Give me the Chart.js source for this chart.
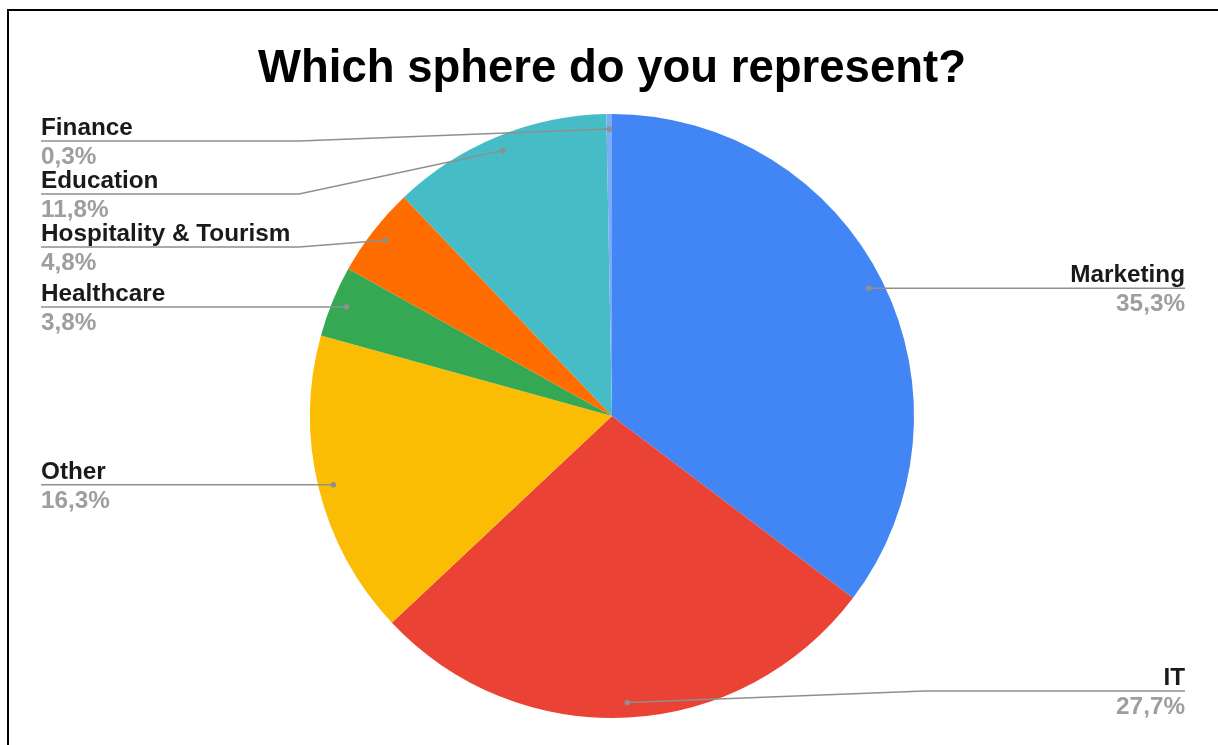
<!DOCTYPE html>
<html>
<head>
<meta charset="utf-8">
<script src="https://cdn.jsdelivr.net/npm/chart.js@4"></script>
<style>
  body { margin: 0; background: #fff; }
  #wrap { position: relative; width: 1218px; height: 745px; }
</style>
</head>
<body>
<div id="wrap"><canvas id="pie" width="1218" height="745"></canvas></div>
<script>
// Data (clockwise from top)
const categories = ['Marketing', 'IT', 'Other', 'Healthcare', 'Hospitality & Tourism', 'Education', 'Finance'];
const shares = [35.3, 27.7, 16.3, 3.8, 4.8, 11.8, 0.3];
const sliceColors = ['#4285F4', '#EA4335', '#FBBC04', '#34A853', '#FF6D01', '#46BDC6', '#7BAAF7'];
const chartTitle = 'Which sphere do you represent?';

const FONT = '"Liberation Sans", Arial, sans-serif';

function fmtPct(v) {
    return v.toFixed(1).replace('.', ',') + '%';
}

// frame, title and leader-line labels
const calloutPlugin = {
    id: 'callouts',
    afterDraw(chart) {
        const ctx = chart.ctx;
        const W = chart.width, H = chart.height;
        ctx.save();

        // frame (top + left edge)
        ctx.strokeStyle = '#000';
        ctx.lineWidth = 2;
        ctx.beginPath();
        ctx.moveTo(8, H);
        ctx.lineTo(8, 10);
        ctx.lineTo(W, 10);
        ctx.stroke();

        // title
        ctx.fillStyle = '#000';
        ctx.font = 'bold 45.5px ' + FONT;
        ctx.textAlign = 'center';
        ctx.textBaseline = 'alphabetic';
        ctx.fillText(chartTitle, 612, 82);

        const meta = chart.getDatasetMeta(0);
        const items = [];
        meta.data.forEach((arc, i) => {
            const p = arc.getProps(['x', 'y', 'startAngle', 'endAngle', 'outerRadius'], true);
            const mid = (p.startAngle + p.endAngle) / 2;
            const d = p.outerRadius * 0.95;
            items.push({
                i,
                cx: p.x, r: p.outerRadius,
                dx: p.x + Math.cos(mid) * d,
                dy: p.y + Math.sin(mid) * d,
                right: Math.cos(mid) >= 0
            });
        });

        const minY = 141, maxY = H - 54, gap = 53;
        [true, false].forEach(side => {
            const group = items.filter(it => it.right === side).sort((a, b) => a.dy - b.dy);
            let prev = -Infinity;
            group.forEach(it => {
                let ly = Math.max(it.dy, prev + gap, minY);
                ly = Math.min(ly, maxY);
                it.ly = ly;
                prev = ly;
            });
        });

        items.forEach(it => {
            const textX = it.right ? 1185 : 41;
            const bendX = it.right ? it.cx + it.r + 11 : it.cx - it.r - 11;

            ctx.strokeStyle = '#8f8f8f';
            ctx.lineWidth = 1.5;
            ctx.beginPath();
            ctx.moveTo(it.dx, it.dy);
            if (Math.abs(it.ly - it.dy) > 0.5) ctx.lineTo(bendX, it.ly);
            ctx.lineTo(textX, it.ly);
            ctx.stroke();

            ctx.fillStyle = '#8f8f8f';
            ctx.beginPath();
            ctx.arc(it.dx, it.dy, 2.8, 0, Math.PI * 2);
            ctx.fill();

            ctx.textAlign = it.right ? 'right' : 'left';
            ctx.font = 'bold 24.3px ' + FONT;
            ctx.fillStyle = '#1a1a1a';
            ctx.fillText(categories[it.i], textX, it.ly - 6);
            ctx.fillStyle = '#9e9e9e';
            ctx.fillText(fmtPct(shares[it.i]), textX, it.ly + 23);
        });

        ctx.restore();
    }
};

new Chart(document.getElementById('pie').getContext('2d'), {
    type: 'pie',
    data: {
        labels: categories,
        datasets: [{
            data: shares,
            backgroundColor: sliceColors,
            borderWidth: 0
        }]
    },
    options: {
        responsive: false,
        animation: false,
        devicePixelRatio: 1,
        layout: { padding: { top: 114, bottom: 27, left: 6, right: 0 } },
        plugins: {
            legend: { display: false },
            tooltip: { enabled: false },
            title: { display: false }
        }
    },
    plugins: [calloutPlugin]
});
</script>
</body>
</html>
